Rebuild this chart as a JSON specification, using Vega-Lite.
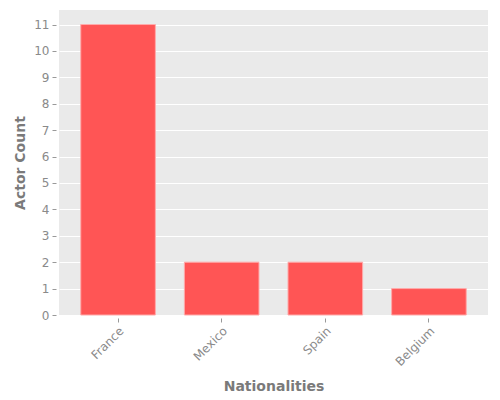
{
  "$schema": "https://vega.github.io/schema/vega-lite/v6.json",
  "autosize": {"type": "none"},
  "padding": {"left": 59, "top": 10, "right": 12, "bottom": 85},
  "width": 429,
  "height": 305,
  "background": "white",
  "data": {
    "values": [
      {"nationality": "France", "count": 11},
      {"nationality": "Mexico", "count": 2},
      {"nationality": "Spain", "count": 2},
      {"nationality": "Belgium", "count": 1}
    ]
  },
  "mark": {"type": "bar", "color": "#ff5555", "stroke": "#ffaaaa", "strokeWidth": 1},
  "encoding": {
    "x": {
      "field": "nationality",
      "type": "nominal",
      "sort": null,
      "title": "Nationalities",
      "scale": {"paddingInner": 0.28, "paddingOuter": 0.21},
      "axis": {"labelAngle": -45, "labelAlign": "right", "labelBaseline": "top", "offset": 3, "titlePadding": 12}
    },
    "y": {
      "field": "count",
      "type": "quantitative",
      "title": "Actor Count",
      "scale": {"domain": [0, 11.55], "nice": false},
      "axis": {"values": [0, 1, 2, 3, 4, 5, 6, 7, 8, 9, 10, 11], "offset": 3, "titlePadding": 6}
    }
  },
  "config": {
    "font": "DejaVu Sans",
    "view": {"fill": "#eaeaea", "stroke": null},
    "axis": {
      "domain": false,
      "grid": true,
      "gridColor": "white",
      "gridWidth": 1,
      "tickColor": "#999999",
      "tickSize": 4,
      "labelColor": "#8a8a8a",
      "labelFontSize": 12,
      "labelPadding": 3,
      "titleColor": "#7a7a7a",
      "titleFontSize": 14,
      "titleFontWeight": "bold"
    },
    "axisX": {"grid": false}
  }
}
